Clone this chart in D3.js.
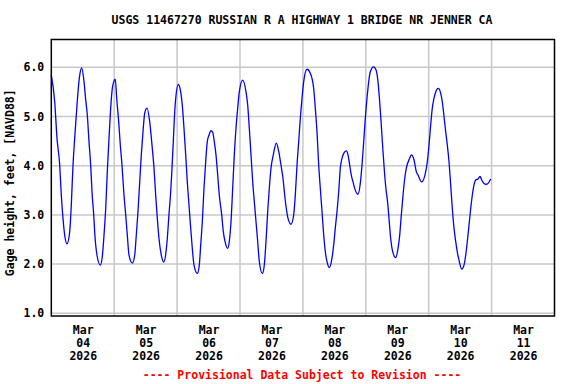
<!DOCTYPE html>
<html>
<head>
<meta charset="utf-8">
<script src="https://cdn.jsdelivr.net/npm/d3@7"></script>
<style>
  html, body { margin: 0; padding: 0; background: #fff; }
  svg { display: block; }
  text { font-family: "DejaVu Sans Mono", "Liberation Mono", monospace; font-weight: bold; font-size: 11.5px; }
</style>
</head>
<body>
<div id="chart"></div>
<script>
// ---- Data ----
const title = "USGS 11467270 RUSSIAN R A HIGHWAY 1 BRIDGE NR JENNER CA";
const yLabel = "Gage height, feet, [NAVD88]";
const footer = "---- Provisional Data Subject to Revision ----";
const startTime = "2026-03-04T00:00:00";
const endTime = "2026-03-12T00:00:00";
const yTicks = [1.0, 2.0, 3.0, 4.0, 5.0, 6.0];
const dayTickDates = ["2026-03-04", "2026-03-05", "2026-03-06", "2026-03-07", "2026-03-08", "2026-03-09", "2026-03-10", "2026-03-11"];

// hours since Mar 04 2026 00:00
const hours = [
  0.00, 1.30, 2.17, 3.21, 3.82, 4.46, 5.11, 5.99, 7.02, 7.63, 8.28, 8.93, 9.54, 10.19, 10.84, 11.60,
  12.48, 13.13, 13.74, 14.38, 15.03, 15.53, 16.18, 16.67, 17.44, 18.70, 19.46, 20.11, 20.76, 21.37, 22.02, 22.66,
  23.28, 23.81, 24.42, 24.95, 25.72, 26.33, 26.98, 27.74, 28.39, 29.00, 29.65, 30.91, 31.82, 32.43, 33.08, 33.73,
  34.34, 34.99, 35.64, 36.52, 37.55, 38.42, 39.19, 39.83, 40.45, 41.09, 41.97, 42.90, 43.77, 44.26, 44.89, 45.56,
  46.05, 46.55, 46.93, 47.47, 48.46, 49.37, 49.98, 50.63, 51.28, 51.89, 52.54, 53.19, 53.80, 54.45, 55.71, 56.47,
  57.01, 57.62, 58.26, 58.91, 59.52, 60.17, 60.94, 61.58, 62.19, 62.84, 63.49, 64.10, 65.02, 65.63, 66.28, 67.31,
  67.92, 68.57, 69.21, 69.83, 70.47, 71.12, 71.73, 73.03, 74.29, 74.94, 75.55, 76.20, 76.85, 77.46, 78.11, 78.75,
  79.37, 80.51, 81.27, 81.92, 82.57, 83.18, 83.83, 84.71, 85.85, 86.77, 87.65, 88.41, 89.06, 89.67, 90.32, 91.46,
  92.49, 93.10, 93.75, 94.40, 95.01, 95.66, 96.31, 97.57, 98.83, 100.12, 100.73, 101.38, 102.03, 102.64, 103.29, 103.94,
  104.55, 105.20, 106.07, 107.10, 107.75, 108.36, 109.01, 109.66, 110.27, 110.92, 111.57, 112.56, 113.21, 113.86, 114.47, 115.12,
  115.76, 117.02, 117.90, 118.55, 119.20, 119.81, 120.46, 121.11, 121.72, 123.01, 123.89, 124.65, 125.30, 125.91, 126.56, 127.21,
  127.82, 128.30, 128.85, 129.50, 130.11, 131.41, 132.29, 132.94, 133.55, 134.20, 134.85, 135.46, 136.75, 137.36, 138.39, 139.27,
  139.92, 141.33, 142.86, 143.47, 144.12, 144.76, 145.37, 146.02, 146.67, 147.66, 148.58, 149.19, 149.84, 150.49, 151.10, 151.75,
  152.39, 153.01, 153.66, 154.30, 154.91, 155.56, 156.59, 157.47, 158.12, 158.73, 159.38, 160.03, 160.64, 161.29, 161.94, 162.82,
  163.58, 164.23, 165.11, 165.87, 166.64, 167.66
];
const gageHeight = [
  5.84, 5.30, 4.56, 4.01, 3.40, 2.93, 2.59, 2.41, 2.66, 3.20, 4.01, 4.56, 5.03, 5.50, 5.84, 5.99,
  5.71, 5.34, 5.03, 4.49, 4.01, 3.47, 3.00, 2.56, 2.18, 1.98, 2.15, 2.59, 3.13, 3.88, 4.56, 5.17,
  5.57, 5.70, 5.76, 5.37, 4.89, 4.42, 4.01, 3.40, 3.00, 2.59, 2.18, 2.02, 2.18, 2.59, 3.07, 3.67,
  4.22, 4.69, 5.07, 5.17, 4.89, 4.42, 3.95, 3.40, 2.93, 2.52, 2.18, 2.04, 2.25, 2.52, 3.00, 3.47,
  3.95, 4.49, 4.93, 5.37, 5.65, 5.50, 5.23, 4.76, 4.22, 3.67, 3.20, 2.73, 2.32, 1.98, 1.81, 1.98,
  2.39, 2.86, 3.54, 4.08, 4.49, 4.62, 4.71, 4.68, 4.49, 4.22, 3.81, 3.40, 3.00, 2.66, 2.46, 2.32,
  2.46, 2.86, 3.54, 4.22, 4.76, 5.17, 5.50, 5.74, 5.50, 5.23, 4.76, 4.22, 3.67, 3.27, 2.86, 2.46,
  2.05, 1.81, 1.98, 2.46, 3.07, 3.54, 3.95, 4.22, 4.46, 4.29, 4.01, 3.74, 3.40, 3.13, 2.93, 2.81,
  3.00, 3.40, 4.01, 4.49, 4.96, 5.37, 5.71, 5.96, 5.88, 5.57, 5.17, 4.69, 4.01, 3.54, 3.07, 2.59,
  2.25, 2.05, 1.93, 2.12, 2.39, 2.73, 3.07, 3.47, 3.95, 4.15, 4.25, 4.30, 4.22, 4.01, 3.81, 3.67,
  3.54, 3.42, 3.64, 4.01, 4.49, 4.96, 5.37, 5.71, 5.91, 6.01, 5.95, 5.71, 5.30, 4.83, 4.29, 3.81,
  3.47, 3.27, 2.93, 2.52, 2.29, 2.13, 2.32, 2.59, 3.00, 3.40, 3.74, 3.95, 4.15, 4.22, 4.12, 3.88,
  3.81, 3.67, 3.88, 4.08, 4.42, 4.83, 5.17, 5.37, 5.50, 5.57, 5.47, 5.30, 5.00, 4.69, 4.42, 4.08,
  3.61, 3.13, 2.73, 2.46, 2.25, 2.08, 1.90, 1.98, 2.18, 2.46, 2.79, 3.13, 3.40, 3.61, 3.71, 3.73,
  3.78, 3.71, 3.64, 3.62, 3.64, 3.73
];

// ---- Layout ----
const W = 576, H = 384;
const plot = { left: 51.3, right: 554.5, top: 39.5, bottom: 316 };
const yDomain = [0.945, 6.565];

const parse = d3.isoParse;
const t0 = parse(startTime), t1 = parse(endTime);
const data = hours.map((h, i) => ({ t: new Date(t0.getTime() + h * 3600e3), v: gageHeight[i] }));

const x = d3.scaleTime().domain([t0, t1]).range([plot.left, plot.right]);
const y = d3.scaleLinear().domain(yDomain).range([plot.bottom, plot.top]);

const svg = d3.select("#chart").append("svg").attr("width", W).attr("height", H);

// Gridlines
const gridColor = "#c8c8c8";
const dayLines = d3.timeDay.range(t0, t1).slice(1);
svg.append("g").selectAll("line").data(dayLines).join("line")
  .attr("x1", d => x(d)).attr("x2", d => x(d))
  .attr("y1", plot.top).attr("y2", plot.bottom)
  .attr("stroke", gridColor).attr("stroke-width", 1.5);
svg.append("g").selectAll("line").data(yTicks).join("line")
  .attr("x1", plot.left).attr("x2", plot.right)
  .attr("y1", d => y(d)).attr("y2", d => y(d))
  .attr("stroke", gridColor).attr("stroke-width", 1.5);

// Data line
svg.append("path").datum(data)
  .attr("fill", "none").attr("stroke", "#0000ff").attr("stroke-width", 1.3)
  .attr("d", d3.line().x(d => x(d.t)).y(d => y(d.v)).curve(d3.curveMonotoneX));

// Frame
svg.append("rect")
  .attr("x", plot.left).attr("y", plot.top)
  .attr("width", plot.right - plot.left).attr("height", plot.bottom - plot.top)
  .attr("fill", "none").attr("stroke", "#000").attr("stroke-width", 1.5);

// Y axis
const yAxis = d3.axisLeft(y).tickValues(yTicks).tickFormat(d3.format(".1f")).tickSize(0).tickPadding(7);
const gy = svg.append("g").attr("transform", `translate(${plot.left},0)`).call(yAxis);
gy.select(".domain").remove();
gy.selectAll("text").attr("fill", "#000").style("font-family", null).style("font-size", null)
  .attr("font-family", null).attr("font-size", null);

// X axis (labels at noon of each day)
const noonTicks = dayTickDates.map(s => new Date(parse(s + "T12:00:00")));
const fmtMon = d3.timeFormat("%b"), fmtDay = d3.timeFormat("%d"), fmtYear = d3.timeFormat("%Y");
const xAxis = d3.axisBottom(x).tickValues(noonTicks).tickSize(0).tickFormat(() => "");
const gx = svg.append("g").attr("transform", `translate(0,${plot.bottom})`).call(xAxis);
gx.select(".domain").remove();
gx.selectAll(".tick text").each(function(d) {
  const t = d3.select(this).attr("y", 0).attr("dy", null).attr("fill", "#000")
    .attr("font-family", null).attr("font-size", null);
  [fmtMon(d), fmtDay(d), fmtYear(d)].forEach((s, i) => {
    t.append("tspan").attr("x", 0).attr("y", 18 + i * 13).text(s);
  });
});

// Y label
svg.append("text")
  .attr("transform", `translate(14,${(plot.top + plot.bottom) / 2 + 5}) rotate(-90)`)
  .attr("text-anchor", "middle")
  .text(yLabel);

// Title
svg.append("text").attr("x", 302).attr("y", 24).attr("text-anchor", "middle").text(title);

// Footer
svg.append("text").attr("x", 302).attr("y", 379).attr("text-anchor", "middle")
  .attr("fill", "#ff0000").text(footer);
</script>
</body>
</html>
